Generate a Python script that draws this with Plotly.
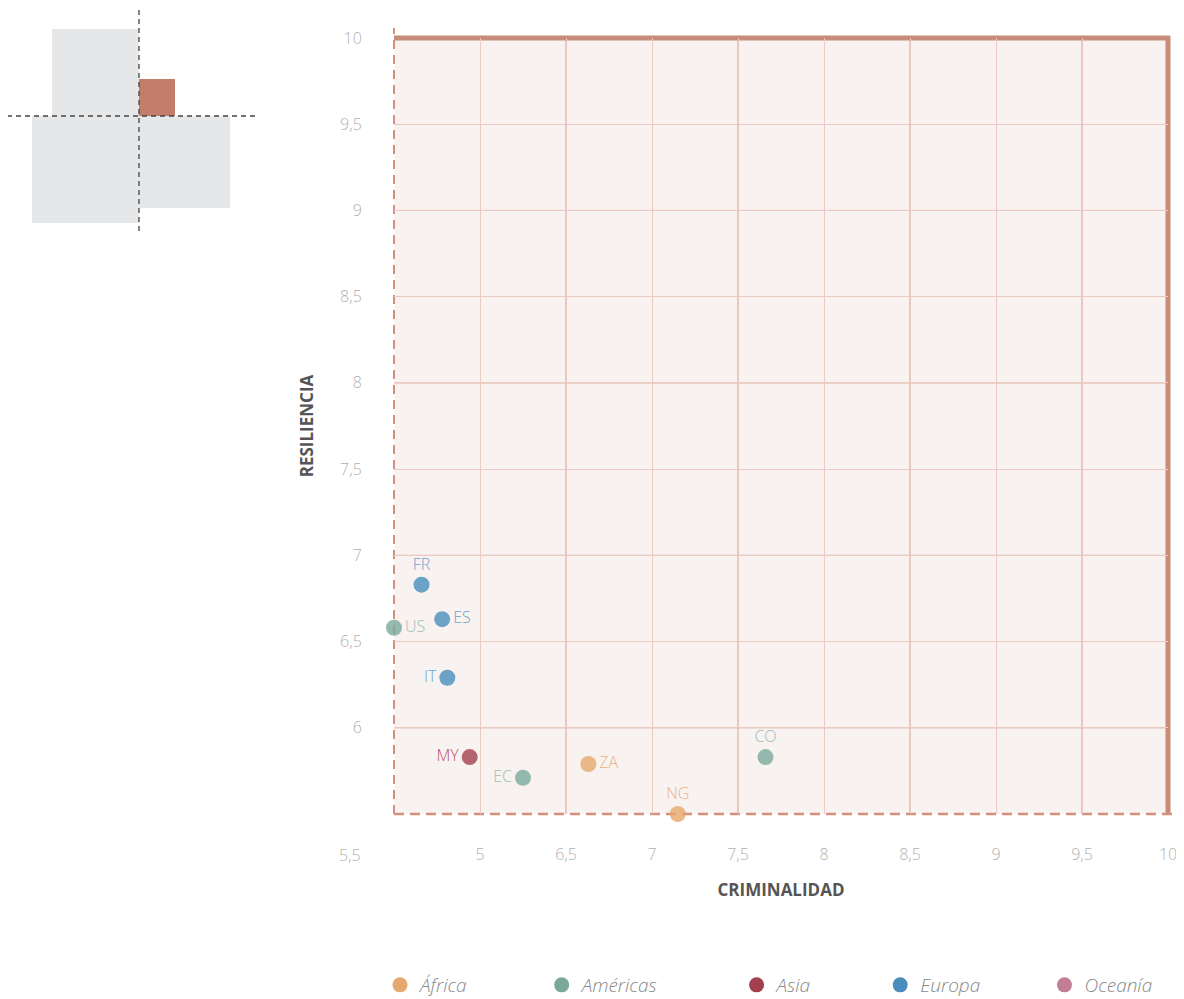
import plotly.graph_objects as go

# ---- data ----
codes = ["FR", "ES", "US", "IT", "MY", "EC", "ZA", "NG", "CO"]
regions = ["Europa", "Europa", "Américas", "Europa", "Asia", "Américas", "África", "África", "Américas"]
criminalidad = [5.66, 5.78, 5.50, 5.81, 5.94, 6.25, 6.63, 7.15, 7.66]
resiliencia = [6.83, 6.63, 6.58, 6.29, 5.83, 5.71, 5.79, 5.50, 5.83]
label_pos = ["top center", "middle right", "middle right", "middle left", "middle left",
             "middle left", "middle right", "top center", "top center"]

region_order = ["África", "Américas", "Asia", "Europa", "Oceanía"]
region_colors = {"África": "#e6a86c", "Américas": "#7aa99c", "Asia": "#a3404f",
                 "Europa": "#4a8dbd", "Oceanía": "#c27e96"}
region_text = {"África": "#ebb384", "Américas": "#9fbfb1", "Asia": "#b8506a",
               "Europa": "#6fa3cc", "Oceanía": "#c98ea3"}
legend_pad = {"África": 14, "Américas": 15, "Asia": 13, "Europa": 12, "Oceanía": 0}

y_ticks = [6, 6.5, 7, 7.5, 8, 8.5, 9, 9.5, 10]
y_ticktext = ["6", "6,5", "7", "7,5", "8", "8,5", "9", "9,5", "10"]
x_ticks = [6, 6.5, 7, 7.5, 8, 8.5, 9, 9.5, 10]
x_ticktext = ["5", "6,5", "7", "7,5", "8", "8,5", "9", "9,5", "10"]
x_first_label = "5,5"
x_dark_grid = [6.5, 7.5, 8.5, 9.5]
y_dark_grid = [6, 7, 8, 9]

FONT = "Open Sans"

fig = go.Figure()

for reg in region_order:
    idx = [i for i, r in enumerate(regions) if r == reg]
    if idx:
        fig.add_trace(go.Scatter(
            x=[criminalidad[i] for i in idx],
            y=[resiliencia[i] for i in idx],
            text=[codes[i] for i in idx],
            textposition=[label_pos[i] for i in idx],
            mode="markers+text",
            marker=dict(size=16, color=region_colors[reg], opacity=0.8, line=dict(width=0)),
            textfont=dict(family=FONT, size=16, color=region_text[reg], weight=300),
            cliponaxis=False, showlegend=False, hoverinfo="skip"))
    fig.add_trace(go.Scatter(
        x=[None], y=[None], mode="markers", name=reg + "\u00a0" * legend_pad[reg],
        marker=dict(size=15, color=region_colors[reg])))

# page has an 8px body margin: figure is placed at (8, 8) on the page
OFF = 8
W, H = 1184 - OFF, 999 - OFF
# plot area in page pixels
L, R, T, B = 394, 1168, 38, 814
def px(X):
    return (X - L) / (R - L)
def py(Y):
    return (B - Y) / (B - T)

shapes = []
for v in x_dark_grid:
    shapes.append(dict(type="line", xref="x", yref="paper", x0=v, x1=v, y0=0, y1=1,
                       line=dict(color="#d69c8e", width=1), layer="between"))
for v in y_dark_grid:
    shapes.append(dict(type="line", xref="paper", yref="y", x0=0, x1=1, y0=v, y1=v,
                       line=dict(color="#d69c8e", width=1), layer="between"))
border = "#c98b7a"
shapes.append(dict(type="line", xref="paper", yref="paper", x0=0, x1=px(1170), y0=1, y1=1,
                   line=dict(color=border, width=5), layer="between"))
shapes.append(dict(type="line", xref="paper", yref="paper", x0=1, x1=1, y0=0, y1=py(36),
                   line=dict(color=border, width=5), layer="between"))
shapes.append(dict(type="line", xref="paper", yref="paper", x0=0, x1=0, y0=0, y1=py(28),
                   line=dict(color="#d4907f", width=2, dash="9px,6px"), layer="between"))
shapes.append(dict(type="line", xref="paper", yref="paper", x0=0, x1=px(1182), y0=0, y1=0,
                   line=dict(color="#d4907f", width=2.5, dash="10px,6px"), layer="between"))

gray = "#e6e7e9"
for (x0, y0, x1, y1) in [(52, 29, 139, 116), (32, 116, 139, 223), (139, 116, 230, 208)]:
    shapes.append(dict(type="rect", xref="paper", yref="paper", x0=px(x0), x1=px(x1),
                       y0=py(y1), y1=py(y0), fillcolor=gray, line=dict(width=0), layer="above"))
shapes.append(dict(type="rect", xref="paper", yref="paper", x0=px(139), x1=px(175),
                   y0=py(116), y1=py(79), fillcolor="#c27e6b", line=dict(width=0), layer="above"))
shapes.append(dict(type="line", xref="paper", yref="paper", x0=px(139), x1=px(139),
                   y0=py(231), y1=py(6), line=dict(color="#444", width=1.3, dash="5px,4px"), layer="above"))
shapes.append(dict(type="line", xref="paper", yref="paper", x0=px(7), x1=px(257),
                   y0=py(116), y1=py(116), line=dict(color="#444", width=1.3, dash="5px,4px"), layer="above"))

fig.update_layout(
    width=W, height=H,
    margin=dict(l=L - OFF, r=1184 - R, t=T - OFF, b=999 - B, autoexpand=False),
    paper_bgcolor="white", plot_bgcolor="#f8f2f0",
    font=dict(family=FONT),
    shapes=shapes,
    showlegend=True,
    legend=dict(orientation="h", x=px(380), xanchor="left", y=py(985), yanchor="middle",
                font=dict(family=FONT, size=19, color="#888888", style="italic", weight=300),
                itemclick=False, itemdoubleclick=False),
    annotations=[dict(text=x_first_label, xref="paper", yref="paper", x=px(350), y=py(855),
                      xanchor="center", yanchor="middle", showarrow=False,
                      font=dict(family=FONT, size=16, color="#b0b0b0", weight=300))],
)

fig.update_xaxes(range=[5.5, 10], tickvals=x_ticks, ticktext=x_ticktext, automargin=False,
                 showgrid=True, gridcolor="#eccac1", gridwidth=1, zeroline=False, showline=False,
                 ticks="outside", ticklen=26, tickcolor="rgba(0,0,0,0)",
                 tickfont=dict(family=FONT, size=16, color="#b0b0b0", weight=300),
                 title=dict(text="CRIMINALIDAD", standoff=19,
                            font=dict(family=FONT, size=17, color="#555555", weight=700)))
fig.update_yaxes(range=[5.5, 10], tickvals=y_ticks, ticktext=y_ticktext, automargin=False,
                 showgrid=True, gridcolor="#eccac1", gridwidth=1, zeroline=False, showline=False,
                 ticks="outside", ticklen=28, tickcolor="rgba(0,0,0,0)",
                 tickfont=dict(family=FONT, size=16, color="#b0b0b0", weight=300),
                 title=dict(text="RESILIENCIA", standoff=22,
                            font=dict(family=FONT, size=17, color="#555555", weight=700)))

fig.write_html("out.html")
